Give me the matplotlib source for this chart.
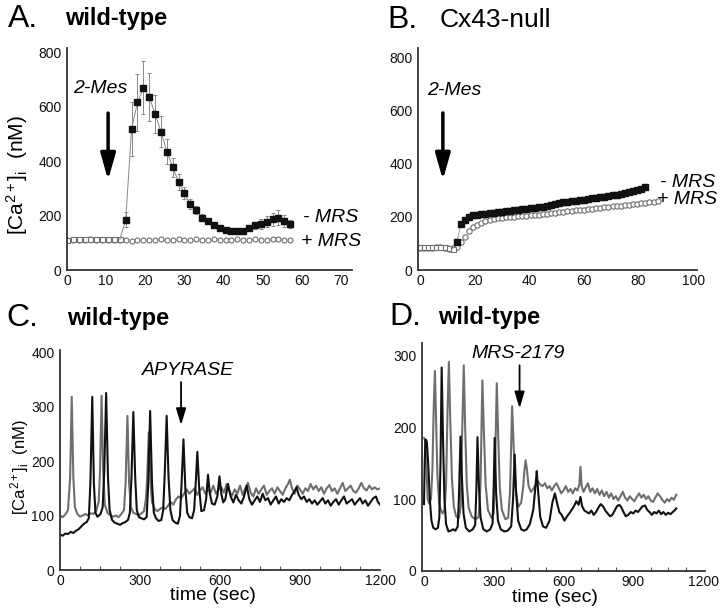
import numpy as np
import matplotlib
matplotlib.use("Agg")
import matplotlib.pyplot as plt
from matplotlib.ticker import MultipleLocator

plt.rcParams['font.family'] = ['Liberation Sans', 'DejaVu Sans']
plt.rcParams['mathtext.fontset'] = 'custom'
plt.rcParams['mathtext.rm'] = 'Liberation Sans'
plt.rcParams['mathtext.it'] = 'Liberation Sans:italic'

GRAY = '#6e6e6e'
BLACK = '#111111'

# ---- panel A: wild-type, 2-Mes, mean +/- sem ----
a_circ_t = np.arange(0, 58.5, 1.5)
a_circ = [110, 109, 111, 110, 112, 110, 109, 111, 110, 109, 110, 108, 109, 110,
          111, 110, 112, 111, 110, 112, 111, 110, 113, 111, 110, 112, 111, 110,
          111, 112, 110, 111, 112, 110, 111, 113, 112, 110, 109]
a_pre_t = [0, 1.5, 3, 4.5, 6, 7.5, 9, 10.5, 12, 13.5]
a_pre = [111, 112, 112, 113, 112, 113, 114, 112, 112, 113]
a_sq_t = np.arange(15, 58.5, 1.5)
a_sq = [185, 518, 615, 669, 636, 573, 508, 435, 378, 323, 281, 241, 219, 192,
        180, 165, 156, 147, 143, 143, 143, 153, 164, 170, 178, 186, 192, 180, 168]
a_sq_err = [27, 98, 106, 98, 88, 70, 58, 45, 35, 28, 22, 18, 15, 12,
            10, 9, 8, 8, 8, 8, 8, 10, 14, 18, 20, 24, 28, 22, 15]

# ---- panel B: Cx43-null ----
b_pre_t = [0, 1.5, 3, 4.5, 6, 7.5, 9, 10.5, 12]
b_pre = [85, 85, 86, 86, 87, 86, 85, 83, 80]
b_sq_t = np.arange(13.5, 83, 1.5)
b_sq = [104, 172, 188, 200, 205, 207, 209,
        211, 213, 215, 217, 219, 220, 222, 224, 226, 228, 230, 232, 234, 236,
        238, 241, 244, 247, 250, 254, 256, 258, 260, 262, 264, 266, 269, 271,
        273, 276, 278, 280, 283, 286, 289, 292, 295, 300, 305, 311]
b_circ_t = np.arange(0, 88, 1.5)
b_circ = [82, 83, 84, 84, 85, 85, 84, 80, 82, 88, 106, 125, 145, 160, 170, 177,
          183, 188, 191, 194, 196, 198, 199, 200, 202, 203, 204, 206, 207, 208,
          210, 211, 213, 215, 217, 219, 220, 222, 224, 225, 227, 229, 231, 232,
          234, 236, 237, 239, 240, 242, 244, 245, 247, 249, 251, 253, 255, 257, 258]

# ---- panel C: wild-type, apyrase ----
c_gray_t = [0, 10, 20, 30, 38, 44, 50, 56, 65, 75, 85, 95, 105, 115, 125, 135, 145,
            150, 156, 162, 168, 178, 190, 200, 210, 220, 230, 240, 246, 253, 259, 266,
            275, 285, 295, 305, 315, 322, 327, 333, 339, 345, 355, 365, 375, 385, 395,
            405, 415, 425, 435, 445, 455, 465, 475, 485, 495, 505, 515, 525, 535, 545,
            555, 565, 575, 585, 595, 605, 615, 625, 635, 645, 655, 665, 675, 685, 695,
            705, 715, 725, 735, 745, 755, 765, 775, 785, 795, 805, 815, 825, 835, 845,
            855, 862, 870, 880, 890, 900, 910, 920, 930, 940, 950, 960, 970, 980, 990,
            1000, 1010, 1020, 1030, 1040, 1050, 1060, 1070, 1080, 1090, 1100, 1110,
            1120, 1130, 1140, 1150, 1160, 1170, 1180, 1190, 1200]
c_gray = [100, 97, 102, 110, 170, 318, 170, 115, 103, 98, 100, 103, 100, 104, 103, 108, 125,
          180, 320, 180, 120, 105, 100, 98, 100, 97, 103, 110, 160, 283, 160, 115,
          105, 103, 100, 104, 108, 130, 170, 253, 165, 125, 112, 108, 112, 115, 112,
          118, 125, 120, 130, 135, 132, 140, 148, 140, 145, 150, 138, 146, 152, 140,
          148, 142, 155, 140, 148, 152, 142, 158, 145, 136, 148, 140, 155, 138, 150,
          160, 142, 135, 150, 140, 148, 155, 138, 145, 150, 140, 152, 145, 138, 150,
          158, 166, 150, 140, 155, 148, 140, 150, 145, 158, 148, 155, 145, 152, 140,
          150, 156, 145, 150, 140, 150, 160, 145, 150, 155, 145, 142,
          150, 160, 150, 146, 155, 148, 152, 148, 150]
c_black_t = [0, 10, 20, 30, 40, 50, 60, 70, 80, 90, 100, 108, 114, 121, 127, 133, 140, 146,
             152, 160, 166, 173, 180, 186, 195, 205, 215, 225, 235, 245, 255, 262, 268,
             275, 282, 288, 296, 305, 315, 325, 331, 338, 345, 352, 360, 370, 380, 387,
             393, 400, 407, 414, 422, 432, 442, 450, 456, 463, 470, 477, 485, 495, 503,
             509, 515, 522, 530, 540, 548, 555, 562, 570, 580, 590, 598, 605, 612, 620,
             630, 640, 650, 660, 670, 680, 690, 700, 710, 720, 730, 740, 750, 760, 770,
             780, 790, 800, 810, 820, 830, 840, 850, 860, 870, 880, 887, 895, 905, 915,
             925, 935, 945, 955, 965, 975, 985, 995, 1005, 1015, 1025, 1035, 1045, 1055,
             1065, 1075, 1085, 1095, 1105, 1115, 1125, 1135, 1145, 1155, 1165, 1175,
             1185, 1192, 1200]
c_black = [65, 63, 67, 66, 70, 68, 72, 75, 80, 85, 88, 95, 160, 318, 160, 105, 98, 100,
           103, 115, 180, 325, 170, 110, 92, 87, 85, 83, 86, 88, 92, 105, 170,
           290, 170, 110, 97, 95, 93, 97, 160, 292, 160, 105, 95, 90, 92, 110,
           180, 283, 170, 110, 92, 87, 85, 100, 160, 240, 150, 105, 97, 95, 110,
           160, 217, 150, 108, 110, 130, 175, 140, 122, 120, 135, 172, 140, 124, 130,
           158, 135, 124, 138, 128, 122, 135, 155, 130, 120, 128, 135, 125, 140, 128,
           132, 120, 128, 135, 122, 130, 125, 132, 128, 138, 145, 152, 138, 130, 135,
           125, 130, 122, 128, 120, 126, 132, 122, 128, 118, 125, 130, 120, 128,
           135, 122, 126, 130, 120, 126, 132, 122, 128, 118, 125, 132,
           135, 125, 120]

# ---- panel D: wild-type, MRS-2179 ----
d_gray_t = [0, 5, 10, 16, 22, 30, 36, 42, 47, 52, 58, 65, 72, 80, 88, 95, 101, 107, 113,
            120, 128, 138, 150, 158, 164, 171, 177, 184, 192, 205, 220, 235, 243, 251,
            257, 265, 275, 290, 300, 306, 313, 319, 326, 335, 350, 362, 370, 379, 386,
            394, 405, 418, 426, 432, 437, 443, 450, 460, 470, 480, 490, 500, 510, 520,
            530, 540, 550, 560, 570, 580, 590, 600, 610, 620, 630, 640, 650, 660, 668,
            673, 678, 686, 695, 705, 715, 725, 735, 745, 755, 765, 775, 785, 795, 805,
            815, 825, 835, 845, 855, 865, 875, 885, 895, 905, 915, 925, 935, 945, 955,
            965, 975, 985, 995, 1005, 1015, 1025, 1035, 1045, 1055, 1065, 1075, 1085]
d_gray = [185, 182, 150, 100, 94, 100, 140, 230, 278, 210, 130, 95, 85, 80, 85, 120, 220, 291, 210,
          130, 90, 76, 74, 90, 190, 286, 200, 120, 88, 76, 72, 75, 120, 265,
          200, 120, 85, 74, 80, 150, 261, 190, 115, 85, 72, 74, 110, 229, 170,
          115, 89, 95, 115, 140, 154, 140, 118, 110, 114, 120, 125, 120, 118, 122,
          115, 118, 112, 118, 122, 115, 108, 112, 118, 110, 114, 108, 115, 112, 120,
          145, 118, 110, 116, 122, 110, 115, 108, 114, 106, 112, 104, 110, 102, 108,
          100, 104, 98, 104, 110, 102, 98, 104, 100, 97, 103, 108, 102, 106, 100,
          104, 98, 96, 102, 108, 104, 99, 95, 100, 97, 102, 99, 106]
d_black_t = [0, 3, 6, 12, 18, 25, 32, 40, 50, 60, 66, 71, 76, 82, 88, 95, 105, 115, 125,
             135, 145, 150, 157, 163, 170, 180, 195, 210, 220, 225, 230, 236, 243, 255,
             270, 285, 295, 300, 304, 310, 318, 330, 345, 360, 375, 383, 390, 396, 405,
             418, 430, 442, 455, 470, 480, 485, 491, 500, 512, 525, 540, 552, 563, 572,
             582, 592, 604, 615, 625, 635, 645, 655, 665, 673, 680, 690, 700, 710, 720,
             730, 740, 750, 760, 770, 780, 790, 800, 810, 820, 830, 840, 848, 858, 868,
             878, 890, 900, 910, 920, 930, 940, 951, 960, 970, 980, 990, 1000, 1010,
             1020, 1030, 1040, 1050, 1060, 1070, 1080, 1085]
d_black = [93, 150, 183, 180, 150, 100, 70, 60, 58, 60, 75, 150, 283, 180, 100, 65, 55, 56, 58,
           56, 62, 100, 187, 130, 80, 60, 55, 58, 64, 110, 186, 120, 75, 58,
           55, 58, 66, 120, 185, 110, 70, 58, 55, 56, 62, 100, 162, 110, 70,
           58, 56, 58, 65, 85, 120, 139, 110, 75, 62, 60, 70, 95, 108, 95,
           82, 78, 70, 76, 80, 85, 90, 97, 92, 103, 90, 84, 82, 80, 84,
           78, 82, 88, 93, 90, 84, 80, 76, 78, 84, 90, 92, 89, 82, 76,
           78, 82, 80, 84, 82, 86, 90, 91, 85, 82, 78, 82, 80, 84,
           79, 82, 78, 81, 79, 82, 85, 87]

fig = plt.figure(figsize=(7.2, 6.09), dpi=100)
W, H = 720, 609


def box(l, t, r, b):
    return [l / W, 1 - b / H, (r - l) / W, (b - t) / H]


def style(ax, size=10):
    for s in ['top', 'right']:
        ax.spines[s].set_visible(False)
    for s in ['left', 'bottom']:
        ax.spines[s].set_linewidth(1.3)
        ax.spines[s].set_color('#333333')
    ax.tick_params(length=0, labelsize=size, colors='#111111')
    ax.tick_params(axis='x', pad=3)
    ax.tick_params(axis='y', pad=4)


def arrow(ax, x, y0, y1, lw, hl, hw):
    ax.annotate('', xy=(x, y1), xytext=(x, y0),
                arrowprops=dict(arrowstyle='-|>,head_length=%g,head_width=%g' % (hl, hw),
                                lw=lw, color='black', shrinkA=0, shrinkB=0),
                annotation_clip=False)


# A
axA = fig.add_axes(box(67, 48, 352, 270))
style(axA)
axA.plot(a_circ_t, a_circ, 'o', ms=3.6, mfc='white', mec=GRAY, mew=0.8)
axA.plot(a_pre_t, a_pre, 's', ms=3.6, mfc='white', mec=GRAY, mew=0.8)
axA.plot(np.concatenate([a_pre_t[-1:], a_sq_t]), [a_pre[-1]] + a_sq, '-', color='#888888', lw=0.7)
axA.errorbar(a_sq_t, a_sq, yerr=a_sq_err, fmt='s', ms=5, color=BLACK, ecolor='#888888',
             elinewidth=0.7, capsize=1.5, capthick=0.7)
axA.set_xlim(0, 72.8)
axA.set_ylim(0, 815)
axA.set_xticks(range(0, 71, 10))
axA.set_yticks(range(0, 801, 200))
axA.text(8.4, 668, '2-Mes', style='italic', fontsize=14, ha='center', va='center')
arrow(axA, 10.5, 576, 330, 2.5, 1.6, 0.45)
axA.text(60.3, 191, '- MRS', style='italic', fontsize=14, va='center', clip_on=False)
axA.text(59.8, 106, '+ MRS', style='italic', fontsize=14, va='center', clip_on=False)

# B
axB = fig.add_axes(box(418, 48, 697, 270))
style(axB)
axB.errorbar(b_sq_t, b_sq, yerr=11, fmt='none', ecolor='#999999', elinewidth=0.6,
             capsize=1, capthick=0.5)
axB.plot(b_circ_t, b_circ, 'o', ms=3.8, mfc='white', mec=GRAY, mew=0.8)
axB.plot(b_pre_t, b_pre, 's', ms=3.6, mfc='white', mec=GRAY, mew=0.8)
axB.plot([b_pre_t[-1]] + list(b_sq_t), [b_pre[-1]] + b_sq, '-', color='#888888', lw=0.6)
axB.plot(b_sq_t, b_sq, 's', ms=5, color=BLACK)
axB.set_xlim(-0.7, 101.4)
axB.set_ylim(0, 834)
axB.set_xticks(range(0, 101, 20))
axB.set_yticks(range(0, 801, 200))
axB.text(12.4, 676, '2-Mes', style='italic', fontsize=14, ha='center', va='center')
arrow(axB, 8.4, 590, 338, 2.5, 1.6, 0.45)
axB.text(87.8, 330, '- MRS', style='italic', fontsize=14, va='center', clip_on=False)
axB.text(86.7, 263, '+ MRS', style='italic', fontsize=14, va='center', clip_on=False)

# C
axC = fig.add_axes(box(60, 350, 380, 570))
style(axC)
axC.plot(c_gray_t, c_gray, color=GRAY, lw=1.5)
axC.plot(c_black_t, c_black, color=BLACK, lw=1.5)
axC.set_xlim(0, 1200)
axC.set_ylim(0, 404)
axC.set_xticks(range(0, 1201, 300))
axC.set_yticks(range(0, 401, 100))
axC.xaxis.set_minor_locator(MultipleLocator(75))
axC.tick_params(axis='x', which='minor', direction='in', length=3, width=0.8, color='#555555')
axC.text(480, 367, 'APYRASE', style='italic', fontsize=14, ha='center', va='center')
arrow(axC, 454, 345, 266, 1.3, 1.0, 0.3)

# D
axD = fig.add_axes(box(422, 343, 705, 571))
style(axD)
axD.plot(d_gray_t, d_gray, color=GRAY, lw=1.5)
axD.plot(d_black_t, d_black, color=BLACK, lw=1.5)
axD.set_xlim(-8.6, 1208.6)
axD.set_ylim(0, 317)
axD.set_xticks(range(0, 1201, 300))
axD.set_yticks(range(0, 301, 100))
axD.xaxis.set_minor_locator(MultipleLocator(75))
axD.tick_params(axis='x', which='minor', direction='in', length=3, width=0.8, color='#555555')
axD.text(403, 303, 'MRS-2179', style='italic', fontsize=14, ha='center', va='center')
arrow(axD, 411, 286, 226, 1.3, 1.0, 0.3)

# panel titles
for x, y, s in [(8, 27, 'A.'), (387, 28, 'B.'), (6, 326, 'C.'), (389, 325, 'D.')]:
    fig.text(x / W, 1 - y / H, s, fontsize=23, va='baseline')
for x, y, s, w, fs in [(65, 25, 'wild-type', 'bold', 17), (440, 27, 'Cx43-null', 'normal', 19),
                       (67, 325, 'wild-type', 'bold', 17), (438, 324, 'wild-type', 'bold', 17)]:
    fig.text(x / W, 1 - y / H, s, fontsize=fs, va='baseline', fontweight=w)

fig.text(17 / W, 1 - 175 / H, r'[Ca$^{2+}$]$_{\rm i}$  (nM)', rotation=90, fontsize=15,
         ha='center', va='center')
fig.text(20 / W, 1 - 467 / H, r'[Ca$^{2+}$]$_{\rm i}$  (nM)', rotation=90, fontsize=12,
         ha='center', va='center')
fig.text(213 / W, 1 - 596 / H, 'time (sec)', fontsize=14, ha='center', va='center')
fig.text(555 / W, 1 - 598 / H, 'time (sec)', fontsize=14, ha='center', va='center')

fig.savefig('out.png', dpi=100)
